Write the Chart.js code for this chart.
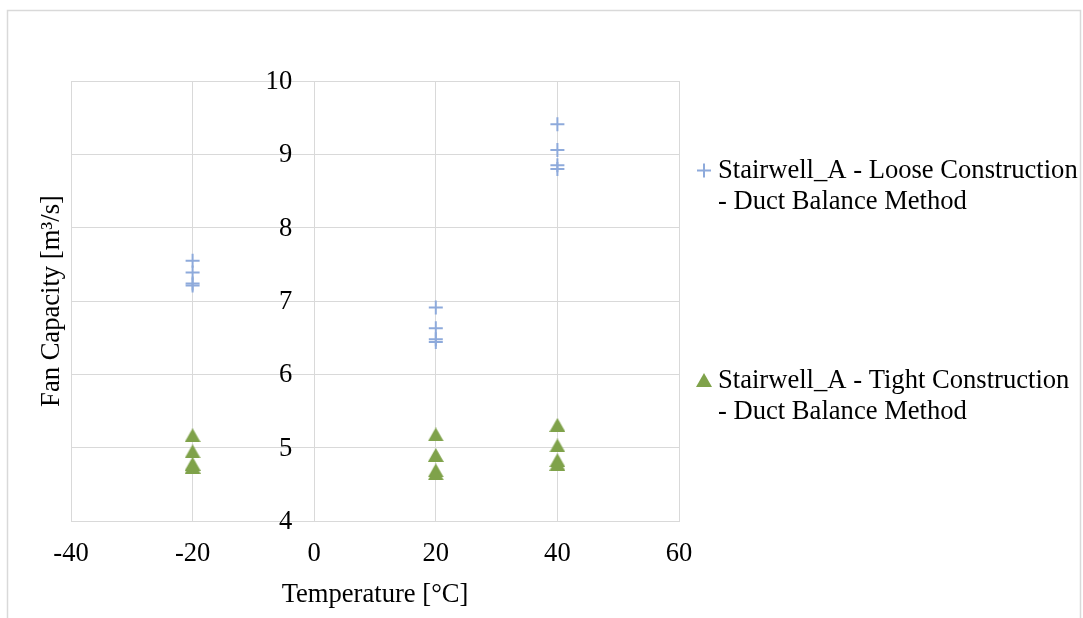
<!DOCTYPE html>
<html>
<head>
<meta charset="utf-8">
<script src="https://cdn.jsdelivr.net/npm/chart.js@4.4.1/dist/chart.umd.min.js"></script>
<style>
  html, body { margin: 0; padding: 0; background: #ffffff; }
  #wrap { width: 1083px; height: 618px; position: relative; }
</style>
</head>
<body>
<div id="wrap"><canvas id="chart" width="1083" height="618"></canvas></div>
<script>
// Outdoor temperature for each simulated case [°C]
const temperatures = [-20, -20, -20, -20, 20, 20, 20, 20, 40, 40, 40, 40];
// Required fan capacity [m³/s]
const looseCapacity = [7.55, 7.39, 7.24, 7.21, 6.91, 6.63, 6.48, 6.44, 9.41, 9.06, 8.85, 8.80];
const tightCapacity = [5.17, 4.95, 4.78, 4.74, 5.18, 4.90, 4.69, 4.65, 5.31, 5.03, 4.83, 4.78];
// Legend entries, one array of lines per series
const looseName = ['Stairwell_A - Loose Construction', '- Duct Balance Method'];
const tightName = ['Stairwell_A - Tight Construction', '- Duct Balance Method'];
const xTitle = 'Temperature [°C]';
const yTitle = 'Fan Capacity [m³/s]';

const FONT_FAMILY = "'Liberation Serif', 'Times New Roman', serif";
const FONT_SIZE = 26.6;
const TEXT_COLOR = '#000000';
const GRID_COLOR = '#d9d9d9';
const LOOSE_COLOR = '#8eaadb';
const TIGHT_COLOR = '#7fa24a';

function triangleMarker(color) {
  const c = document.createElement('canvas');
  c.width = 16; c.height = 14;
  const g = c.getContext('2d');
  g.fillStyle = color;
  g.beginPath();
  g.moveTo(8, 0);
  g.lineTo(16, 14);
  g.lineTo(0, 14);
  g.closePath();
  g.fill();
  return c;
}
const tightMarker = triangleMarker(TIGHT_COLOR);

function toPoints(ys) {
  return temperatures.map((t, i) => ({ x: t, y: ys[i] }));
}

// Outer frame, value-axis labels beside the x = 0 axis, y-axis title and the two-line legend
const decorations = {
  id: 'decorations',
  beforeDraw(chart) {
    const ctx = chart.ctx;
    ctx.save();
    ctx.fillStyle = '#ffffff';
    ctx.fillRect(0, 0, chart.width, chart.height);
    ctx.strokeStyle = GRID_COLOR;
    ctx.lineWidth = 1.5;
    ctx.strokeRect(7.5, 10.5, 1073, 640);
    ctx.restore();
  },
  afterDraw(chart) {
    const ctx = chart.ctx;
    const area = chart.chartArea;
    const xScale = chart.scales.x;
    const yScale = chart.scales.y;
    ctx.save();
    ctx.fillStyle = TEXT_COLOR;
    ctx.font = FONT_SIZE + 'px ' + FONT_FAMILY;

    // value labels, right-aligned just left of the vertical axis at x = 0
    const axisX = xScale.getPixelForValue(0);
    ctx.textAlign = 'right';
    ctx.textBaseline = 'middle';
    yScale.ticks.forEach(t => {
      ctx.fillText(t.label, axisX - 22, yScale.getPixelForValue(t.value) + 1);
    });

    // y-axis title
    ctx.save();
    ctx.translate(52, (area.top + area.bottom) / 2);
    ctx.rotate(-Math.PI / 2);
    ctx.textAlign = 'center';
    ctx.textBaseline = 'middle';
    ctx.fillText(yTitle, 0, 0);
    ctx.restore();

    // legend
    const entries = [
      { lines: looseName, baseline: 178, markerY: 170.5, style: 'cross', color: LOOSE_COLOR },
      { lines: tightName, baseline: 388, markerY: 380, style: tightMarker, color: TIGHT_COLOR }
    ];
    ctx.textAlign = 'left';
    ctx.textBaseline = 'alphabetic';
    entries.forEach(e => {
      ctx.save();
      ctx.strokeStyle = e.color;
      ctx.fillStyle = e.color;
      ctx.lineWidth = 2;
      Chart.helpers.drawPoint(ctx, { pointStyle: e.style, radius: 7, rotation: 0, borderWidth: 2 }, 704, e.markerY);
      ctx.restore();
      e.lines.forEach((line, k) => {
        ctx.fillText(line, 718, e.baseline + k * 30.5);
      });
    });
    ctx.restore();
  }
};

const tickFont = { family: FONT_FAMILY, size: FONT_SIZE };

new Chart(document.getElementById('chart'), {
  type: 'scatter',
  data: {
    datasets: [
      {
        label: looseName.join(' '),
        data: toPoints(looseCapacity),
        pointStyle: 'cross',
        pointRadius: 7,
        pointHoverRadius: 7,
        borderWidth: 2,
        borderColor: LOOSE_COLOR,
        backgroundColor: LOOSE_COLOR
      },
      {
        label: tightName.join(' '),
        data: toPoints(tightCapacity),
        pointStyle: tightMarker,
        pointRadius: 8,
        pointHoverRadius: 8,
        borderColor: TIGHT_COLOR,
        backgroundColor: TIGHT_COLOR
      }
    ]
  },
  options: {
    responsive: false,
    animation: false,
    layout: { padding: { left: 71, top: 81, right: 404, bottom: 0 } },
    plugins: {
      legend: { display: false },
      tooltip: { enabled: false }
    },
    scales: {
      x: {
        type: 'linear',
        min: -40,
        max: 60,
        ticks: { stepSize: 20, font: tickFont, color: TEXT_COLOR, padding: 17 },
        grid: { color: GRID_COLOR, lineWidth: 1, drawTicks: false },
        border: { color: GRID_COLOR },
        title: { display: true, text: xTitle, font: tickFont, color: TEXT_COLOR, padding: { top: 0, bottom: 7 } },
        afterFit(scale) { scale.height = 97; }
      },
      y: {
        type: 'linear',
        position: { x: 0 },
        min: 4,
        max: 10,
        ticks: { stepSize: 1, display: false },
        grid: { color: GRID_COLOR, lineWidth: 1, drawTicks: false },
        border: { color: GRID_COLOR },
        afterFit(scale) { scale.width = 0; }
      }
    }
  },
  plugins: [decorations]
});
</script>
</body>
</html>
